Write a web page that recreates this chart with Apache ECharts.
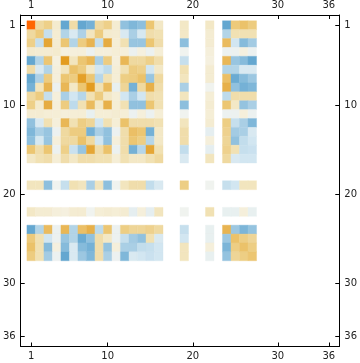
<!DOCTYPE html>
<html>
<head>
<meta charset="utf-8">
<script src="https://cdn.jsdelivr.net/npm/echarts@6/dist/echarts.min.js"></script>
<style>
html,body{margin:0;padding:0;background:#fff;}
#c{width:360px;height:363px;}
</style>
</head>
<body>
<div id="c"></div>
<script>
// Matrix indices (1-based) that carry values; all other rows/columns are empty
const activeIdx = [1,2,3,4,5,6,7,8,9,10,11,12,13,14,15,16,19,22,24,25,26,27];
const tickLabels = [1, 10, 20, 30, 36];
const matrixSize = 36;

// Row values, one array per active row (columns in activeIdx order)
const row1  = [1.0, 0.2, 0.25, 0.08, -0.4, 0.18, -0.4, -0.35, 0.2, 0.25, 0.07, -0.27, -0.32, -0.28, 0.3, 0.1, 0.1, 0.1, -0.4, 0.28, 0.32, 0.27];
const row2  = [0.2, 0.28, -0.13, 0.07, -0.18, -0.08, -0.19, 0.12, 0.27, 0.08, 0.07, -0.08, -0.2, -0.09, 0.17, 0.15, 0.1, 0.07, -0.18, 0.15, 0.15, 0.15];
const row3  = [0.25, -0.13, 0.45, 0.07, 0.3, -0.18, 0.27, 0.38, -0.13, 0.42, 0.06, 0.15, -0.25, -0.25, 0.3, 0.17, -0.28, 0.07, 0.35, -0.1, -0.3, -0.22];
const row4  = [0.08, 0.07, 0.07, 0.08, 0.04, 0.05, 0.05, -0.03, 0.05, 0.05, 0.06, 0.05, -0.03, 0.04, -0.03, 0.06, -0.02, 0.05, -0.03, -0.03, 0.04, -0.03];
const row5  = [-0.4, -0.18, 0.3, 0.04, 0.5, 0.12, 0.3, 0.37, -0.2, 0.27, 0.05, 0.37, 0.2, 0.2, 0.25, 0.17, -0.13, 0.04, 0.37, -0.25, -0.3, -0.4];
const row6  = [0.18, -0.08, -0.18, 0.05, 0.12, 0.32, 0.27, 0.1, -0.1, -0.15, 0.06, 0.15, 0.27, 0.25, -0.1, 0.1, 0.15, 0.07, -0.18, -0.18, -0.08, -0.08];
const row7  = [-0.4, -0.19, 0.27, 0.05, 0.3, 0.27, 0.48, 0.3, -0.17, 0.15, 0.06, 0.26, 0.27, 0.32, -0.25, 0.2, 0.12, 0.07, 0.33, -0.38, -0.3, -0.24];
const row8  = [-0.35, 0.12, 0.38, -0.03, 0.37, 0.1, 0.3, 0.5, 0.15, 0.35, -0.04, 0.22, -0.35, 0.2, 0.4, 0.17, -0.2, -0.02, 0.4, -0.27, -0.35, -0.32];
const row9  = [0.2, 0.27, -0.13, 0.05, -0.2, -0.1, -0.17, 0.15, 0.27, 0.1, 0.06, -0.1, -0.2, -0.1, 0.17, 0.15, 0.12, 0.06, -0.15, 0.17, 0.17, 0.17];
const row10 = [0.25, 0.08, 0.42, 0.05, 0.27, -0.15, 0.15, 0.35, 0.1, 0.4, 0.06, 0.15, -0.27, -0.27, 0.3, 0.15, -0.28, 0.07, 0.3, 0.1, -0.26, -0.2];
const row11 = [0.07, 0.07, 0.06, 0.06, 0.05, 0.06, 0.06, -0.04, 0.06, 0.06, 0.07, 0.06, -0.03, 0.05, -0.03, 0.06, -0.02, 0.06, -0.03, -0.03, 0.05, -0.03];
const row12 = [-0.27, -0.08, 0.15, 0.05, 0.37, 0.15, 0.26, 0.22, -0.1, 0.15, 0.06, 0.32, 0.17, 0.17, 0.17, 0.15, 0.12, 0.07, 0.26, -0.13, -0.2, -0.32];
const row13 = [-0.32, -0.2, -0.25, -0.03, 0.2, 0.27, 0.27, -0.35, -0.2, -0.27, -0.03, 0.17, 0.33, 0.3, -0.35, 0.1, 0.17, -0.05, 0.24, -0.22, -0.2, -0.08];
const row14 = [-0.28, -0.09, -0.25, 0.05, 0.2, 0.2, 0.32, 0.2, -0.1, -0.27, 0.05, 0.17, 0.3, 0.26, -0.17, 0.1, 0.17, 0.05, 0.22, -0.27, -0.14, -0.1];
const row15 = [0.3, 0.17, 0.3, -0.03, 0.25, -0.12, -0.25, 0.45, 0.17, 0.32, -0.03, 0.17, -0.35, -0.17, 0.45, 0.15, -0.14, -0.05, 0.24, 0.15, -0.13, -0.12];
const row16 = [0.1, 0.15, 0.17, 0.06, 0.17, 0.1, 0.17, 0.17, 0.15, 0.15, 0.06, 0.15, 0.1, 0.1, 0.15, 0.2, -0.08, 0.12, 0.2, -0.08, -0.1, -0.1];
const row19 = [0.12, 0.12, -0.28, -0.02, -0.13, 0.15, 0.12, -0.2, 0.12, -0.28, -0.02, 0.12, 0.17, 0.17, -0.14, -0.08, 0.26, -0.02, -0.13, -0.1, 0.12, 0.12];
const row22 = [0.1, 0.07, 0.07, 0.05, 0.04, 0.07, 0.07, -0.02, 0.06, 0.07, 0.06, 0.07, -0.05, 0.05, -0.05, 0.12, -0.02, 0.15, -0.04, -0.04, 0.05, -0.04];
const row24 = [-0.4, -0.18, 0.35, -0.03, 0.37, -0.18, 0.33, 0.4, -0.15, 0.3, -0.03, 0.26, 0.22, 0.22, 0.24, 0.2, -0.13, -0.04, 0.38, -0.24, -0.33, -0.26];
const row25 = [0.28, 0.15, -0.1, -0.03, -0.25, -0.18, -0.38, -0.27, 0.17, 0.1, -0.03, -0.13, -0.22, -0.27, 0.15, -0.08, -0.1, -0.04, -0.24, 0.32, 0.26, 0.22];
const row26 = [0.32, 0.15, -0.3, 0.04, -0.3, -0.08, -0.3, -0.35, 0.17, -0.26, 0.05, -0.2, -0.2, -0.14, -0.13, -0.1, 0.12, 0.05, -0.33, 0.26, 0.32, 0.26];
const row27 = [0.27, 0.15, -0.22, -0.03, -0.4, -0.08, -0.24, -0.32, 0.17, -0.2, -0.03, -0.32, -0.08, -0.1, -0.12, -0.1, 0.12, -0.04, -0.26, 0.22, 0.26, 0.3];

const rows = [row1,row2,row3,row4,row5,row6,row7,row8,row9,row10,row11,row12,row13,row14,row15,row16,row19,row22,row24,row25,row26,row27];

const data = [];
rows.forEach((vals, ri) => {
  vals.forEach((v, ci) => {
    data.push([activeIdx[ci], activeIdx[ri], v]);
  });
});

const chart = echarts.init(document.getElementById('c'), null, {renderer: 'canvas'});

const labelStyle = {
  customValues: tickLabels, fontSize: 10, color: '#222',
  fontFamily: 'DejaVu Sans, sans-serif', margin: 5
};
const tickStyle = {
  show: true, inside: true, length: 4, customValues: tickLabels,
  lineStyle: {color: '#000', width: 1}
};
const lineStyle = {show: true, onZero: false, lineStyle: {color: '#000', width: 1}};

function xAx(pos) {
  return {
    type: 'value', position: pos, min: -0.23, max: matrixSize + 1.23,
    axisLine: lineStyle, axisTick: tickStyle, axisLabel: labelStyle,
    splitLine: {show: false}
  };
}
function yAx(pos) {
  return {
    type: 'value', position: pos, inverse: true, min: -0.15, max: matrixSize + 1.15,
    axisLine: lineStyle, axisTick: tickStyle, axisLabel: labelStyle,
    splitLine: {show: false}
  };
}

chart.setOption({
  animation: false,
  backgroundColor: '#fff',
  grid: {left: 13.5, right: 13.5, top: 15, bottom: 16.5},
  xAxis: [xAx('bottom'), xAx('top')],
  yAxis: [yAx('left'), yAx('right')],
  visualMap: {
    show: false, type: 'continuous', dimension: 2, seriesIndex: 0,
    min: -0.5, max: 1.0,
    inRange: {
      color: ['#4e98c8', '#64a7d0', '#86bbdb', '#aacfe5', '#d2e6f1', '#f7f6ef',
              '#f3e8c6', '#efd9a0', '#ecc672', '#e7b04a', '#e39c20', '#e99218',
              '#ee8712', '#f37c0c', '#f97106', '#ff6600']
    }
  },
  series: [{
    type: 'custom',
    coordinateSystem: 'cartesian2d',
    xAxisIndex: 0, yAxisIndex: 0,
    encode: {x: 0, y: 1},
    data: data,
    renderItem: function (params, api) {
      const c = api.value(0), r = api.value(1);
      const p0 = api.coord([c - 0.5, r - 0.5]);
      const p1 = api.coord([c + 0.5, r + 0.5]);
      const col = api.visual('color');
      return {
        type: 'rect',
        shape: {
          x: Math.min(p0[0], p1[0]), y: Math.min(p0[1], p1[1]),
          width: Math.abs(p1[0] - p0[0]), height: Math.abs(p1[1] - p0[1])
        },
        style: {fill: col, stroke: col, lineWidth: 0.4}
      };
    }
  }]
});
</script>
</body>
</html>
